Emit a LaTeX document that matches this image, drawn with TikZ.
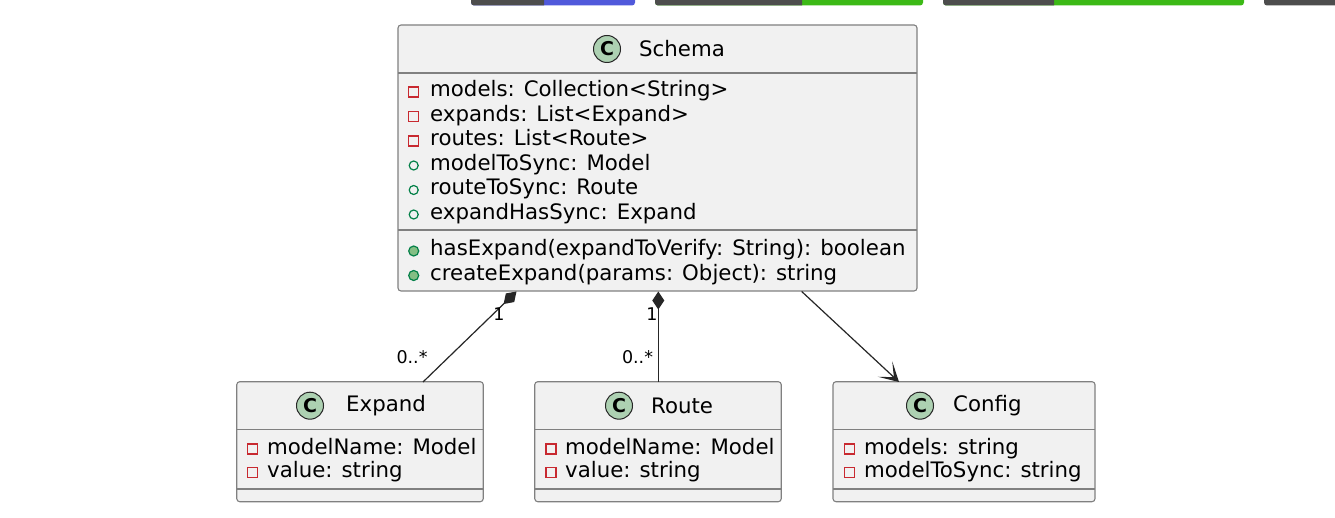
\documentclass[tikz,border=0pt]{standalone}
\usepackage{fontspec}
\setmainfont{DejaVu Sans}
\usetikzlibrary{arrows.meta}
\definecolor{boxfill}{HTML}{F1F1F1}
\definecolor{boxline}{HTML}{808080}
\definecolor{circfill}{HTML}{ADD1B2}
\definecolor{privred}{HTML}{C82930}
\definecolor{pubgreen}{HTML}{038048}
\definecolor{methfill}{HTML}{84BE84}
\definecolor{badgegray}{HTML}{4D4D4D}
\definecolor{badgeblue}{HTML}{5059DB}
\definecolor{badgegreen}{HTML}{3CB916}
\begin{document}
\begin{tikzpicture}[x=1pt,y=-1pt,
  classbox/.style={draw=boxline, fill=boxfill, line width=1.1pt, rounded corners=3pt, inner sep=0pt, rectangle},
  divider/.style={draw=boxline, line width=1.1pt},
  cicon/.style={circle, draw=black!85, fill=circfill, line width=1pt, minimum size=27pt, inner sep=0pt, font=\fontsize{19}{19}\selectfont\bfseries},
  title/.style={anchor=west, inner sep=0pt, font=\fontsize{21.3}{24}\selectfont},
  member/.style={anchor=base west, inner sep=0pt, font=\fontsize{21.3}{24}\selectfont},
  mult/.style={inner sep=0pt, font=\fontsize{17.5}{20}\selectfont},
  priv/.style={rectangle, draw=privred, line width=1.3pt, minimum width=10pt, minimum height=10pt, inner sep=0pt},
  pubf/.style={circle, draw=pubgreen, line width=1.2pt, minimum size=9pt, inner sep=0pt},
  pubm/.style={circle, draw=pubgreen, fill=methfill, line width=1.2pt, minimum size=10pt, inner sep=0pt},
  link/.style={draw=black!85, line width=1.2pt},
  badge/.style={rounded corners=3pt}
]
\useasboundingbox[fill=white] (0,0) rectangle (1335,518);

% badges (cut at top edge)
\fill[badgeblue, badge] (471,-10) rectangle (635,5.5);
\begin{scope}\clip (460,-10) rectangle (544,10); \fill[badgegray, badge] (471,-10) rectangle (635,5.5); \end{scope}
\fill[badgegreen, badge] (655,-10) rectangle (923,5.5);
\begin{scope}\clip (650,-10) rectangle (802,10); \fill[badgegray, badge] (655,-10) rectangle (923,5.5); \end{scope}
\fill[badgegreen, badge] (943,-10) rectangle (1244,5.5);
\begin{scope}\clip (940,-10) rectangle (1054,10); \fill[badgegray, badge] (943,-10) rectangle (1244,5.5); \end{scope}
\fill[badgegray, badge] (1264,-10) rectangle (1350,5.5);

% ---- Schema
\node[classbox, minimum width=519pt, minimum height=266pt] (schema) at (657.5,158) {};
\draw[divider] (398,73) -- (917,73);
\draw[divider] (398,230) -- (917,230);
\node[cicon] (schemaC) at (607,49) {C};
\node[title] (schemaT) at (639,49) {Schema};
\node[priv] (sa1i) at (413.7,92) {};
\node[member] (sa1) at (430,97) {models: Collection<String>};
\node[priv] (sa2i) at (413.7,116.5) {};
\node[member] (sa2) at (430,121.5) {expands: List<Expand>};
\node[priv] (sa3i) at (413.7,141) {};
\node[member] (sa3) at (430,146) {routes: List<Route>};
\node[pubf] (sa4i) at (413.7,165.5) {};
\node[member] (sa4) at (430,170.3) {modelToSync: Model};
\node[pubf] (sa5i) at (413.7,190) {};
\node[member] (sa5) at (430,194.7) {routeToSync: Route};
\node[pubf] (sa6i) at (413.7,214.5) {};
\node[member] (sa6) at (430,219.2) {expandHasSync: Expand};
\node[pubm] (sm1i) at (413.7,251) {};
\node[member] (sm1) at (430,256) {hasExpand(expandToVerify: String): boolean};
\node[pubm] (sm2i) at (413.7,275.5) {};
\node[member] (sm2) at (430,280.5) {createExpand(params: Object): string};

% ---- Expand
\node[classbox, minimum width=246.5pt, minimum height=120pt] (expand) at (360,441.7) {};
\draw[divider] (237,429.5) -- (483.3,429.5);
\draw[divider] (237,489) -- (483.3,489);
\node[cicon] (expandC) at (310,405.7) {C};
\node[title] (expandT) at (346,405.7) {Expand};
\node[priv] (ea1i) at (252.7,449) {};
\node[member] (ea1) at (267,454) {modelName: Model};
\node[priv] (ea2i) at (252.7,472.5) {};
\node[member] (ea2) at (267,477.5) {value: string};

% ---- Route
\node[classbox, minimum width=246.5pt, minimum height=120pt] (route) at (658,441.7) {};
\draw[divider] (535,429.5) -- (781.3,429.5);
\draw[divider] (535,489) -- (781.3,489);
\node[cicon] (routeC) at (619,405.7) {C};
\node[title] (routeT) at (651,405.7) {Route};
\node[priv] (ra1i) at (551,449) {};
\node[member] (ra1) at (565,454) {modelName: Model};
\node[priv] (ra2i) at (551,472.5) {};
\node[member] (ra2) at (565,477.5) {value: string};

% ---- Config
\node[classbox, minimum width=262pt, minimum height=120pt] (config) at (964,441.7) {};
\draw[divider] (833,429.5) -- (1095,429.5);
\draw[divider] (833,489) -- (1095,489);
\node[cicon] (configC) at (920,405.7) {C};
\node[title] (configT) at (953,405.7) {Config};
\node[priv] (ca1i) at (849.5,449) {};
\node[member] (ca1) at (864,454) {models: string};
\node[priv] (ca2i) at (849.5,472.5) {};
\node[member] (ca2) at (864,477.5) {modelToSync: string};

% ---- connectors
\coordinate (se) at (516.5,291.5);
\coordinate (es) at (423,382);
\coordinate (sr) at (658.3,291.5);
\coordinate (rs) at (658.3,382);
\coordinate (sc) at (801.7,291.5);
\coordinate (cs) at (899,382);
\draw[link, {Diamond[length=18pt,width=12pt]}-] (se) -- (es);
\draw[link, {Diamond[length=18pt,width=12pt]}-] (sr) -- (rs);
\draw[link, -{Stealth[length=19pt,width=21pt,inset=12pt]}] (sc) -- (cs);
\node[mult] (m1) at (499,314) {1};
\node[mult] (m2) at (412,357.5) {0..*};
\node[mult] (m3) at (652,314) {1};
\node[mult] (m4) at (637.5,357.5) {0..*};
\end{tikzpicture}
\end{document}
